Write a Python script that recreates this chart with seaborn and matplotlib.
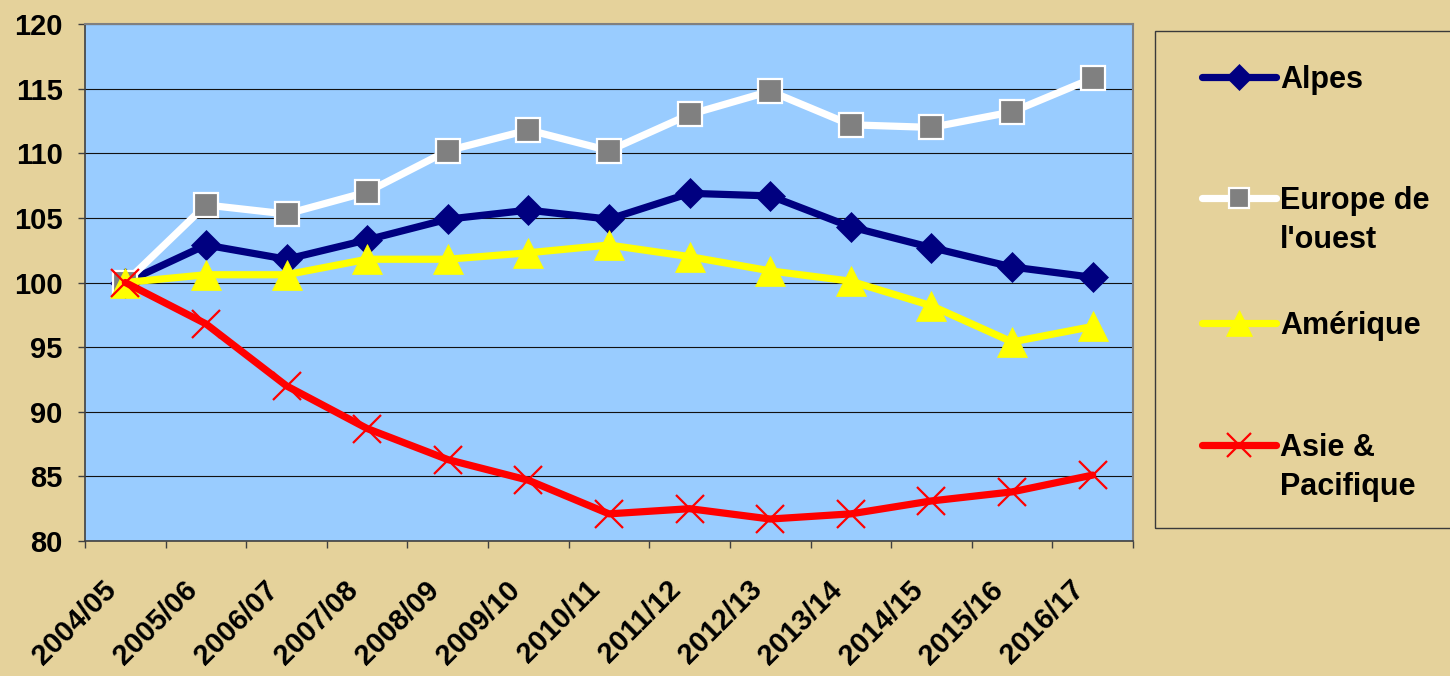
import numpy as np
import seaborn as sns
import matplotlib.pyplot as plt
import matplotlib.transforms as mtransforms
from matplotlib.lines import Line2D
from matplotlib.patches import Rectangle

# data
years = ["2004/05", "2005/06", "2006/07", "2007/08", "2008/09", "2009/10", "2010/11",
         "2011/12", "2012/13", "2013/14", "2014/15", "2015/16", "2016/17"]
alpes = [100, 102.9, 101.8, 103.3, 104.9, 105.6, 104.9, 106.9, 106.7, 104.3, 102.7, 101.2, 100.4]
europe = [100, 106.0, 105.3, 107.0, 110.2, 111.8, 110.2, 113.0, 114.8, 112.2, 112.0, 113.2, 115.8]
amerique = [100, 100.6, 100.6, 101.8, 101.8, 102.3, 102.9, 102.0, 100.9, 100.1, 98.2, 95.4, 96.6]
asie = [100, 96.8, 92.0, 88.7, 86.3, 84.7, 82.1, 82.5, 81.7, 82.1, 83.1, 83.8, 85.1]

bg = '#E5D29B'
plot_bg = '#99CCFF'

sns.set_style("ticks")
plt.rcParams['font.family'] = ['Liberation Sans', 'DejaVu Sans']
plt.rcParams['font.weight'] = 'bold'
plt.rcParams['text.color'] = 'black'

W, H = 1450, 676
fig = plt.figure(figsize=(W / 100, H / 100), dpi=100, facecolor=bg)
ax = fig.add_axes([85 / W, 1 - 541 / H, (1133 - 85) / W, (541 - 24) / H])
ax.set_facecolor(plot_bg)

x = np.arange(len(years))
series = [
    ("Alpes", alpes, dict(color='#000080', marker='D', markersize=15.5,
                          markerfacecolor='#000080', markeredgecolor='#000080', markeredgewidth=0.5)),
    ("Europe de l'ouest", europe, dict(color='white', marker='s', markersize=17.5,
                                      markerfacecolor='#808080', markeredgecolor='white', markeredgewidth=1.6)),
    ("Amérique", amerique, dict(color='#FFFF00', marker='^', markersize=22,
                                markerfacecolor='#FFFF00', markeredgecolor='#FFFF00', markeredgewidth=0.5)),
    ("Asie & Pacifique", asie, dict(color='#FF0000', marker='x', markersize=20,
                                    markeredgecolor='#FF0000', markeredgewidth=1.6)),
]
for name, vals, kw in series:
    sns.lineplot(x=x, y=vals, ax=ax, label=name, linewidth=5.2, solid_capstyle='round', **kw)

handles, labels = ax.get_legend_handles_labels()
ax.get_legend().remove()

# axes, ticks, grid
ax.set_xlim(-0.5, len(years) - 0.5)
ax.set_ylim(80, 120)
ax.set_yticks(range(80, 121, 5))
ax.yaxis.grid(True, color='#111111', linewidth=0.8)
ax.set_axisbelow(True)
ax.set_xlabel('')
ax.set_ylabel('')
for side in ['left', 'bottom']:
    ax.spines[side].set_color('#404040')
    ax.spines[side].set_linewidth(1.2)
for side in ['top', 'right']:
    ax.spines[side].set_color('#808080')
    ax.spines[side].set_linewidth(1.5)

ax.set_xticks(x, labels=years)
ax.set_xticks(np.arange(-0.5, len(years), 1), minor=True)
ax.tick_params(axis='x', which='major', length=0, pad=32, labelsize=21, labelcolor='black')
ax.tick_params(axis='x', which='minor', length=5, width=1, color='#404040', direction='out')
ax.tick_params(axis='y', length=5, width=1, pad=11, labelsize=21, color='#404040',
               labelcolor='black', direction='out')
offset = mtransforms.ScaledTranslation(-13 / 100, 0, fig.dpi_scale_trans)
for lbl in ax.get_xticklabels():
    lbl.set_rotation(45)
    lbl.set_ha('right')
    lbl.set_va('center')
    lbl.set_rotation_mode('anchor')
    lbl.set_transform(lbl.get_transform() + offset)

# legend box on the right, running past the figure edge
fig.add_artist(Rectangle((1155 / W, 1 - 528 / H), 0.3, (528 - 31) / H,
                         transform=fig.transFigure, fill=False, edgecolor='#3a3a3a', linewidth=1))

blank = Line2D([], [], linestyle='none')
groups = [
    ([handles[0]], ["Alpes"]),
    ([handles[1], blank], ["Europe de", "l'ouest"]),
    ([handles[2]], ["Amérique"]),
    ([handles[3], blank], ["Asie &", "Pacifique"]),
]
centers = [83, 204, 329, 451]
for (hs, ls), yc in zip(groups, centers):
    leg = fig.legend(hs, ls, loc='upper left', bbox_to_anchor=(1202 / W, 1 - (yc - 18) / H),
                     frameon=False, fontsize=22, handlelength=2.42, handletextpad=0.13,
                     borderpad=0, borderaxespad=0, labelspacing=0.28, markerscale=0.85)
    for t in leg.get_texts():
        t.set_color('black')

fig.savefig('out.png', dpi=100, facecolor=fig.get_facecolor())
